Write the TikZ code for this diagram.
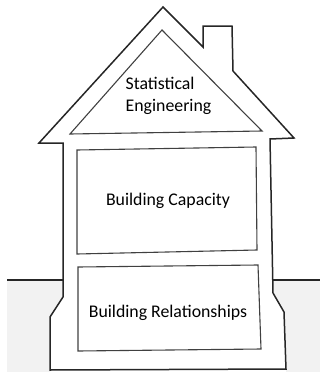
\documentclass[tikz,border=0pt]{standalone}
\usepackage{fontspec}
\setmainfont{Carlito}
\begin{document}
\begin{tikzpicture}[x=1pt,y=-1pt,
  outline/.style={draw=black!85,line width=1.5pt,line join=miter},
  inner/.style={draw=black!75,line width=1.1pt},
  lbl/.style={font=\fontsize{17.8}{22}\selectfont,text=black,inner sep=0pt}]
\useasboundingbox (0,0) rectangle (320,372);
% ground fill
\fill[black!5] (7,280) -- (63,280) -- (63,297) -- (50,317) -- (50,372) -- (7,372) -- cycle;
\fill[black!5] (273,280) -- (320,280) -- (320,372) -- (286,372) -- (286,369) -- (284,312) -- (273,293) -- cycle;
% ground line
\coordinate (gl1) at (7,280);
\coordinate (gl2) at (63,280);
\coordinate (gr1) at (273,280);
\coordinate (gr2) at (320,280);
\draw[outline] (gl1) -- (gl2);
\draw[outline] (gr1) -- (gr2);
% house outline
\draw[outline] (163,7) -- (203,47) -- (203,26) -- (232,26) -- (233,71) -- (294,138)
  -- (270,139) -- (273,293) -- (284,312) -- (286,369) -- (50,370) -- (50,317)
  -- (63,297) -- (63,143) -- (39,143) -- cycle;
% inner triangle
\draw[inner] (162,30) -- (262,131) -- (70,134) -- cycle;
% boxes
\draw[inner] (77,150) -- (256,147) -- (257,250) -- (77,254) -- cycle;
\draw[inner] (78,267) -- (258,265) -- (261,349) -- (78,351) -- cycle;
% labels
\node[lbl,anchor=west,align=left] (se) at (125.5,96) {Statistical\\Engineering};
\node[lbl] (bc) at (168,201) {Building Capacity};
\node[lbl] (br) at (168,313) {Building Relationships};
\end{tikzpicture}
\end{document}
